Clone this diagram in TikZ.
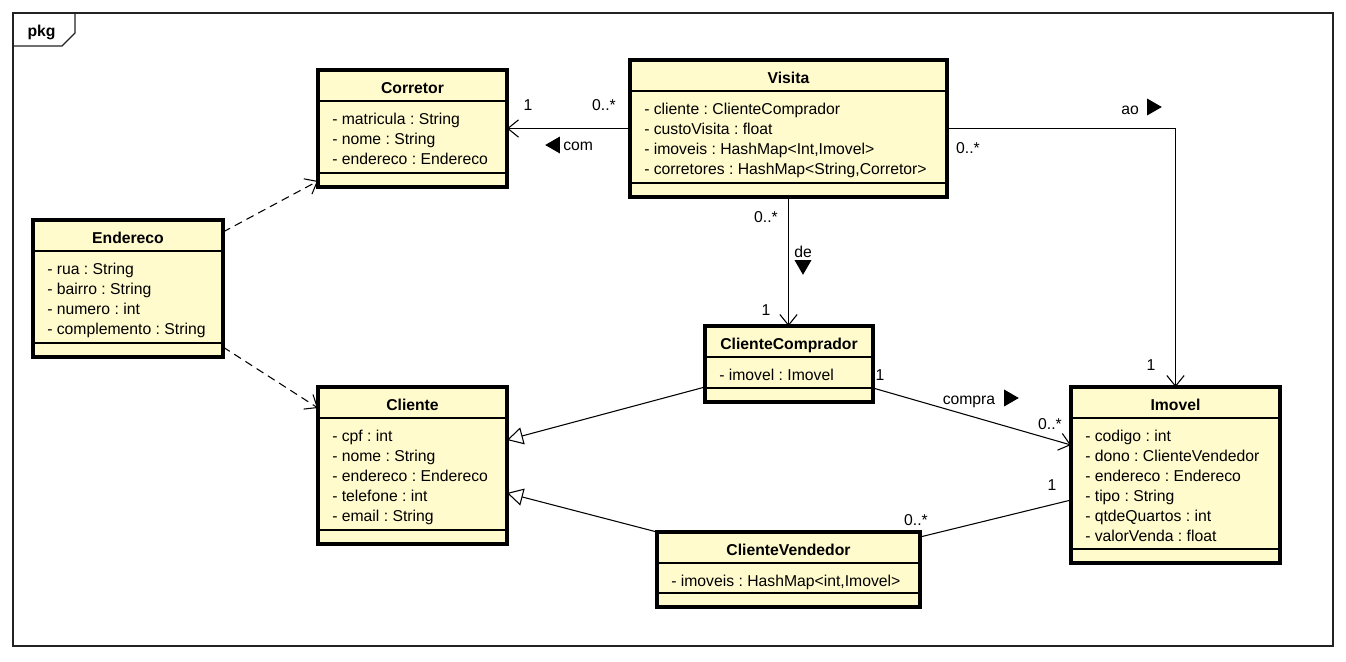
\documentclass[tikz,border=0pt]{standalone}
\usepackage{fontspec}
\setmainfont{Liberation Sans}
\usepackage{xcolor}
\usepackage{tikz}
\usetikzlibrary{
    arrows.meta,
    positioning,
    shapes.geometric,
    calc
}
\definecolor{classfill}{HTML}{FFFBCC}
\definecolor{framecolor}{HTML}{222222}
\newcommand{\umlfont}{\fontsize{11.8}{15}\selectfont\frenchspacing}
\tikzset{
    class box/.style={
        rectangle, draw=black, fill=classfill,
        line width=2.4pt, inner sep=0pt, outer sep=0pt,
        anchor=north west
    },
    class title/.style={
        font=\umlfont\bfseries, anchor=base, inner sep=0pt
    },
    class attrs/.style={
        font=\umlfont, align=left, anchor=north west, inner sep=0pt
    },
    compartment/.style={line width=0.8pt},
    association/.style={
        -{Straight Barb[length=8pt, width=13pt]}, line width=0.8pt
    },
    dependency/.style={
        association, dash pattern=on 6pt off 4pt
    },
    generalization/.style={
        -{Triangle[open, length=12pt, width=13pt, fill=white]}, line width=0.8pt
    },
    link/.style={line width=0.8pt},
    role/.style={font=\umlfont, anchor=base, inner sep=0pt},
    nav arrow/.style={
        regular polygon, regular polygon sides=3, fill=black,
        inner sep=0pt, minimum size=14.7pt, shape border rotate=#1
    },
}
% #1 name, #2 top left, #3 width, #4 height, #5 title, #6 attributes
\newcommand{\umlclass}[6]{%
    \node[class box, minimum width=#3*0.75pt, minimum height=#4*0.75pt] (#1) at (#2) {};
    \node[class title] (#1-title) at ($(#1.north)+(0,23)$) {#5};
    \node[class attrs] (#1-attrs) at ($(#1.north west)+(14,42.5)$) {#6};
    \draw[compartment] ($(#1.north west)+(0,31)$) -- ($(#1.north east)+(0,31)$);
    \draw[compartment] ($(#1.south west)+(0,-14)$) -- ($(#1.south east)+(0,-14)$);
}

\begin{document}
\begin{tikzpicture}[x=0.75pt, y=-0.75pt]
    \useasboundingbox (0,0) rectangle (1346,661);

    % package frame
    \draw[framecolor, line width=0.8pt] (13,13) rectangle (1333,646);
    \draw[framecolor, line width=0.8pt] (13,46) -- (62,46) -- (75,33) -- (75,13);
    \node[role, font=\umlfont\bfseries] (pkg-label) at (41.5,36.5) {pkg};

    % classes
    \umlclass{corretor}{318,70}{189}{117}{Corretor}{%
        - matricula : String\\- nome : String\\- endereco : Endereco}
    \umlclass{visita}{630,60}{317}{137}{Visita}{%
        - cliente : ClienteComprador\\- custoVisita : float\\
        - imoveis : HashMap<Int,Imovel>\\- corretores : HashMap<String,Corretor>}
    \umlclass{endereco}{33,220}{190}{137}{Endereco}{%
        - rua : String\\- bairro : String\\- numero : int\\- complemento : String}
    \umlclass{clienteComprador}{705,326}{168}{76}{ClienteComprador}{%
        - imovel : Imovel}
    \umlclass{cliente}{318,387}{189}{157}{Cliente}{%
        - cpf : int\\- nome : String\\- endereco : Endereco\\- telefone : int\\- email : String}
    \umlclass{clienteVendedor}{657,532}{263}{75}{ClienteVendedor}{%
        - imoveis : HashMap<int,Imovel>}
    \umlclass{imovel}{1071,387}{209}{176}{Imovel}{%
        - codigo : int\\- dono : ClienteVendedor\\- endereco : Endereco\\
        - tipo : String\\- qtdeQuartos : int\\- valorVenda : float}

    % associations
    \draw[association] (visita.west) -- (visita.west -| corretor.east);
    \draw[association] (visita.south) -- (visita.south |- clienteComprador.north);
    \draw[association] (visita.east) -| (imovel.north);
    \draw[association] ($(clienteComprador.south east)+(0,-14)$) -- ($(imovel.north west)+(0,58)$);
    \draw[link] ($(clienteVendedor.north east)+(0,5)$) -- ($(imovel.north west)+(0,113)$);

    % dependencies and generalizations
    \draw[dependency] ($(endereco.north east)+(0,12)$) -- ($(corretor.south west)+(0,-6)$);
    \draw[dependency] ($(endereco.south east)+(0,-10)$) -- ($(cliente.north west)+(0,21)$);
    \draw[generalization] ($(clienteComprador.south west)+(0,-15)$) -- ($(cliente.north east)+(0,53)$);
    \draw[generalization] (clienteVendedor.north west) -- ($(cliente.north east)+(0,106)$);

    % multiplicities
    \node[role] (corretor-mult) at (528,110) {1};
    \node[role] (visita-corretor-mult) at (604,110) {0..*};
    \node[role] (visita-cliente-mult) at (766,222) {0..*};
    \node[role] (comprador-visita-mult) at (766,315) {1};
    \node[role] (visita-imovel-mult) at (968,153) {0..*};
    \node[role] (imovel-visita-mult) at (1151,370) {1};
    \node[role] (comprador-imovel-mult) at (880,380) {1};
    \node[role] (imovel-comprador-mult) at (1050,429) {0..*};
    \node[role] (vendedor-imovel-mult) at (916,525) {0..*};
    \node[role] (imovel-vendedor-mult) at (1052,490) {1};

    % association names
    \node[role, anchor=base west] (com-label) at (563,150) {com};
    \node[nav arrow=90] (com-dir) at (555,145) {};
    \node[role] (de-label) at (803,257) {de};
    \node[nav arrow=180] (de-dir) at (803,265) {};
    \node[role] (ao-label) at (1130,114) {ao};
    \node[nav arrow=-90] (ao-dir) at (1152,107) {};
    \node[role] (compra-label) at (969,404) {compra};
    \node[nav arrow=-90] (compra-dir) at (1009,398) {};
\end{tikzpicture}
\end{document}
